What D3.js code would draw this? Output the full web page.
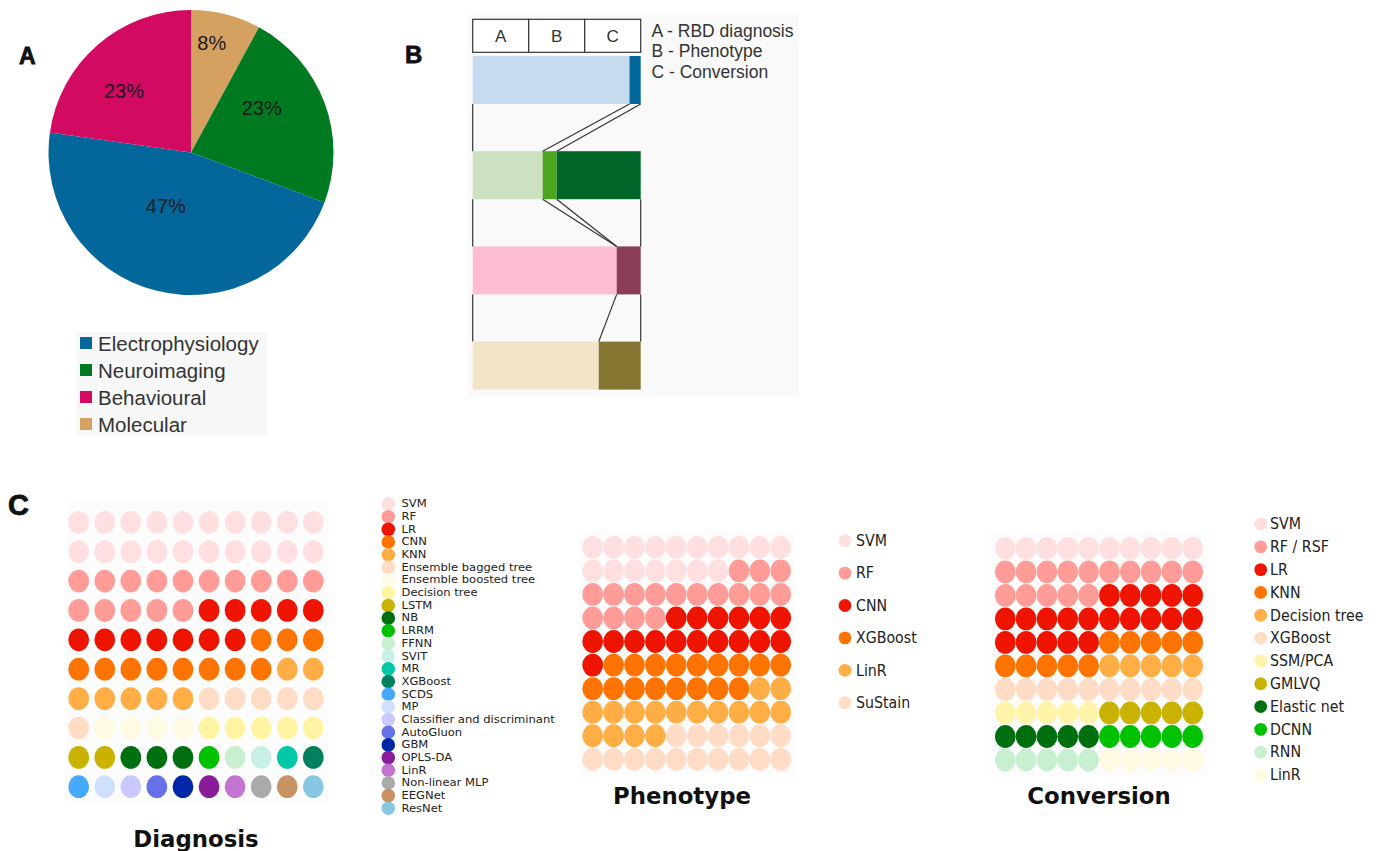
<!DOCTYPE html>
<html>
<head>
<meta charset="utf-8">
<script src="https://cdn.jsdelivr.net/npm/d3@7"></script>
<style>
  body { margin: 0; background: #fff; }
  svg { display: block; }
</style>
</head>
<body>
<script>
// ---------- Panel A: share of studies per data modality ----------
const modalities = ["Molecular", "Neuroimaging", "Electrophysiology", "Behavioural"];
const modalityShare = [8, 23, 47, 23];
const modalityColors = ["#d5a160", "#007a20", "#04679b", "#d30a62"];
const modalityLegend = ["Electrophysiology", "Neuroimaging", "Behavioural", "Molecular"];

// ---------- Panel B: study aim per modality ----------
const stages = ["A", "B", "C"];
const stageNames = ["RBD diagnosis", "Phenotype", "Conversion"];
const flowRows = ["Electrophysiology", "Neuroimaging", "Behavioural", "Molecular"];
const electroStages = [14, 0, 1];
const neuroStages = [5, 1, 6];
const behaviouralStages = [6, 0, 1];
const molecularStages = [3, 0, 1];
const stageColors = [
  ["#c6daf0", "#3b8cc4", "#04679b"],
  ["#cde1c1", "#4ba51f", "#006729"],
  ["#ffbdd4", "#b0506e", "#8a3f57"],
  ["#f1e4c8", "#b09a50", "#857531"]
];
// connectors between consecutive rows: [boundary on upper row, boundary on lower row]
const flowLinks = [
  [[0, 0], [1, 1], [3, 2]],
  [[0, 0], [1, 1], [2, 1], [3, 3]],
  [[0, 0], [1, 1], [3, 3]]
];

// ---------- Panel C: models used per study aim (one dot = 1%) ----------
const diagnosisMethods = ["SVM", "RF", "LR", "CNN", "KNN", "Ensemble bagged tree", "Ensemble boosted tree",
  "Decision tree", "LSTM", "NB", "LRRM", "FFNN", "SVIT", "MR", "XGBoost", "SCDS", "MP",
  "Classifier and discriminant", "AutoGluon", "GBM", "OPLS-DA", "LinR", "Non-linear MLP", "EEGNet", "ResNet"];
const diagnosisCounts = [20, 15, 12, 11, 7, 6, 4, 5, 2, 3, 1, 1, 1, 1, 1, 1, 1, 1, 1, 1, 1, 1, 1, 1, 1];
const diagnosisColors = ["#ffdfdf", "#ff9c98", "#ee1400", "#ff7400", "#ffae46", "#ffdcc6", "#fffbe2",
  "#fff4a2", "#c9b300", "#006f0f", "#00c200", "#c8efd0", "#c9f0e7", "#00c9a8", "#00805c", "#45a9ff",
  "#cfe0ff", "#c9c9ff", "#6670e8", "#0027a8", "#891c98", "#c274d0", "#aaaaaa", "#c99262", "#88c7e1"];

const phenotypeMethods = ["SVM", "RF", "CNN", "XGBoost", "LinR", "SuStain"];
const phenotypeCounts = [17, 17, 17, 17, 16, 16];
const phenotypeColors = ["#ffdfdf", "#ff9c98", "#ee1400", "#ff7400", "#ffae46", "#ffdcc6"];

const conversionMethods = ["SVM", "RF / RSF", "LR", "KNN", "Decision tree", "XGBoost", "SSM/PCA",
  "GMLVQ", "Elastic net", "DCNN", "RNN", "LinR"];
const conversionCounts = [10, 15, 20, 10, 5, 10, 5, 5, 5, 5, 5, 5];
const conversionColors = ["#ffdfdf", "#ff9c98", "#ee1400", "#ff7400", "#ffae46", "#ffdcc6", "#fff5aa",
  "#c9b300", "#006f0f", "#00c200", "#c8efd0", "#fffbe2"];

// ---------- drawing ----------
const W = 1381, H = 851;
const SANS = "'Liberation Sans', Arial, sans-serif";
const DEJAVU = "'DejaVu Sans', Verdana, sans-serif";

const svg = d3.select("body").append("svg")
  .attr("width", W).attr("height", H)
  .style("font-family", SANS);
svg.append("rect").attr("width", W).attr("height", H).attr("fill", "#fff");

// panel letters
function panelLetter(txt, x, y, size) {
  svg.append("text").attr("x", x).attr("y", y)
    .attr("font-size", size).attr("font-weight", "bold").attr("fill", "#111")
    .attr("stroke", "#111").attr("stroke-width", 0.8)
    .text(txt);
}
panelLetter("A", 19, 64, 23);
panelLetter("B", 405, 63, 24);
panelLetter("C", 8, 515, 29);

// ----- Panel A pie -----
const pieCx = 191, pieCy = 152.5, pieR = 142.5;
const labelRadius = [0.78, 0.585, 0.413, 0.64];
const labelShift = [-3.5, -11.5, 11, -6.3];
const pieData = d3.pie().sort(null).value(d => d)(modalityShare);
const arc = d3.arc().innerRadius(0).outerRadius(pieR);
const gA = svg.append("g").attr("transform", `translate(${pieCx},${pieCy})`);
gA.selectAll("path").data(pieData).join("path")
  .attr("d", arc)
  .attr("fill", (d, i) => modalityColors[i]);
gA.selectAll("text").data(pieData).join("text")
  .attr("transform", (d, i) => {
    const a = (d.startAngle + d.endAngle) / 2 + labelShift[i] * Math.PI / 180;
    const r = pieR * labelRadius[i];
    return `translate(${r * Math.sin(a)},${-r * Math.cos(a)})`;
  })
  .attr("text-anchor", "middle").attr("dominant-baseline", "central")
  .attr("font-size", 20).attr("fill", "#1a1a1a")
  .text(d => d.data + "%");

// legend A
const legA = svg.append("g");
legA.append("rect").attr("x", 76).attr("y", 332).attr("width", 191).attr("height", 103).attr("fill", "#f7f7f7");
const legAy = d3.scalePoint().domain(modalityLegend).range([343, 424]);
legA.selectAll("rect.sw").data(modalityLegend).join("rect").attr("class", "sw")
  .attr("x", 80).attr("y", d => legAy(d) - 6).attr("width", 12).attr("height", 12)
  .attr("fill", d => modalityColors[modalities.indexOf(d)]);
legA.selectAll("text").data(modalityLegend).join("text")
  .attr("x", 98).attr("y", d => legAy(d)).attr("dominant-baseline", "central")
  .attr("font-size", 20.5).attr("fill", "#333").text(d => d);

// ----- Panel B flow -----
const gB = svg.append("g");
gB.append("rect").attr("x", 468).attr("y", 15).attr("width", 331).attr("height", 382)
  .attr("rx", 2).attr("fill", "#f9f9f9");

const bx = d3.scaleLinear().domain([0, 1]).range([472.7, 640.7]);
const by = d3.scaleBand().domain(flowRows).range([56, 389.6]).paddingInner(0.496);
const stageX = d3.scaleBand().domain(stages).range([472.7, 640.7]);
const stageCounts = [electroStages, neuroStages, behaviouralStages, molecularStages];
const bounds = stageCounts.map(c => {
  const t = d3.sum(c); let acc = 0;
  return [0, ...c.map(v => (acc += v) / t)];
});

// header cells
gB.selectAll("rect.hd").data(stages).join("rect").attr("class", "hd")
  .attr("x", d => stageX(d)).attr("y", 19.3).attr("width", stageX.bandwidth()).attr("height", 33)
  .attr("fill", "#fff").attr("stroke", "#333").attr("stroke-width", 1.2);
gB.selectAll("text.hd").data(stages).join("text").attr("class", "hd")
  .attr("x", d => stageX(d) + stageX.bandwidth() / 2).attr("y", 36.5)
  .attr("text-anchor", "middle").attr("dominant-baseline", "central")
  .attr("font-size", 17).attr("fill", "#333").text(d => d);
gB.selectAll("text.lg").data(stages).join("text").attr("class", "lg")
  .attr("x", 651.5).attr("y", (d, i) => 36.5 + i * 20.8)
  .attr("font-size", 17.5).attr("fill", "#333")
  .text((d, i) => `${d} - ${stageNames[i]}`);

// bars
flowRows.forEach((row, r) => {
  const segs = stages.map((s, j) => ({ j, a: bounds[r][j], b: bounds[r][j + 1] })).filter(s => s.b > s.a);
  gB.selectAll(null).data(segs).join("rect")
    .attr("x", s => bx(s.a)).attr("y", by(row))
    .attr("width", s => bx(s.b) - bx(s.a)).attr("height", by.bandwidth())
    .attr("fill", s => stageColors[r][s.j]);
});
// connectors
flowLinks.forEach((links, r) => {
  const yTop = by(flowRows[r]) + by.bandwidth();
  const yBot = by(flowRows[r + 1]);
  gB.selectAll(null).data(links).join("line")
    .attr("x1", l => bx(bounds[r][l[0]])).attr("y1", yTop)
    .attr("x2", l => bx(bounds[r + 1][l[1]])).attr("y2", yBot)
    .attr("stroke", "#333").attr("stroke-width", 1.2);
});

// ----- Panel C waffles -----
function waffle(opts) {
  const { methods, counts, colors, x0, x1, y0, y1, bg } = opts;
  const cells = methods.flatMap((m, i) => d3.range(counts[i]).map(() => i));
  const cx = d3.scaleLinear().domain([0, 9]).range([x0, x1]);
  const cy = d3.scaleLinear().domain([0, 9]).range([y0, y1]);
  const g = svg.append("g");
  g.append("rect").attr("x", bg[0]).attr("y", bg[1]).attr("width", bg[2]).attr("height", bg[3])
    .attr("fill", "#fcfcfc");
  g.selectAll("ellipse").data(cells).join("ellipse")
    .attr("cx", (d, i) => cx(i % 10))
    .attr("cy", (d, i) => cy(Math.floor(i / 10)))
    .attr("rx", 10.4).attr("ry", 11.4)
    .attr("fill", d => colors[d]);
}

function dotLegend(opts) {
  const { methods, colors, mx, tx, y0, y1, r, size, sx, sy } = opts;
  const ly = d3.scalePoint().domain(d3.range(methods.length)).range([y0, y1]);
  const g = svg.append("g");
  g.selectAll("circle").data(methods).join("circle")
    .attr("cx", mx).attr("cy", (d, i) => ly(i)).attr("r", r)
    .attr("fill", (d, i) => colors[i]);
  g.selectAll("text").data(methods).join("text")
    .attr("transform", (d, i) => `translate(${tx},${ly(i)}) scale(${sx},${sy})`)
    .attr("dominant-baseline", "central")
    .attr("font-family", DEJAVU).attr("font-size", size).attr("fill", "#222")
    .text(d => d);
}

function title(txt, x, y) {
  svg.append("text").attr("x", x).attr("y", y).attr("text-anchor", "middle")
    .attr("font-family", DEJAVU).attr("font-weight", "bold").attr("font-size", 22.8)
    .attr("fill", "#111").text(txt);
}

waffle({ methods: diagnosisMethods, counts: diagnosisCounts, colors: diagnosisColors,
  x0: 78.7, x1: 313.3, y0: 522.3, y1: 786.7, bg: [66, 502, 262, 300] });
dotLegend({ methods: diagnosisMethods, colors: diagnosisColors,
  mx: 388.3, tx: 401.5, y0: 504, y1: 808.3, r: 6.8, size: 10.8, sx: 1.07, sy: 1 });
title("Diagnosis", 196, 846.5);

waffle({ methods: phenotypeMethods, counts: phenotypeCounts, colors: phenotypeColors,
  x0: 592.7, x1: 780.7, y0: 547.3, y1: 759.3, bg: [579, 532, 216, 242] });
dotLegend({ methods: phenotypeMethods, colors: phenotypeColors,
  mx: 845, tx: 856, y0: 540.7, y1: 702.7, r: 6.4, size: 14.2, sx: 1, sy: 1.1 });
title("Phenotype", 682, 804);

waffle({ methods: conversionMethods, counts: conversionCounts, colors: conversionColors,
  x0: 1005.3, x1: 1192.7, y0: 548.3, y1: 760, bg: [991, 532, 216, 244] });
dotLegend({ methods: conversionMethods, colors: conversionColors,
  mx: 1260.7, tx: 1270, y0: 524, y1: 775, r: 6.4, size: 14.2, sx: 1, sy: 1.1 });
title("Conversion", 1099, 804);
</script>
</body>
</html>
